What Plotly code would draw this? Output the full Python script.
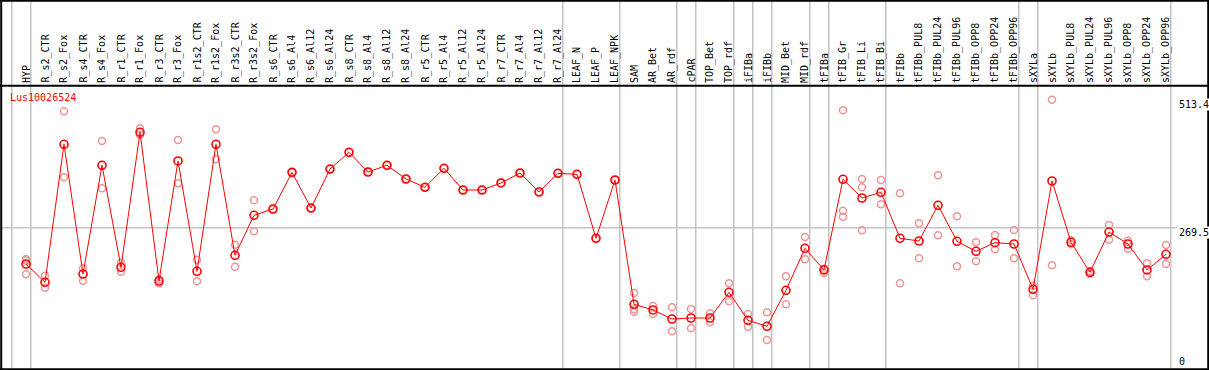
import plotly.graph_objects as go

W, H = 1209, 370

categories = ["HYP", "R_s2_CTR", "R_s2_Fox", "R_s4_CTR", "R_s4_Fox", "R_r1_CTR", "R_r1_Fox",
              "R_r3_CTR", "R_r3_Fox", "R_r1s2_CTR", "R_r1s2_Fox", "R_r3s2_CTR", "R_r3s2_Fox",
              "R_s6_CTR", "R_s6_Al4", "R_s6_Al12", "R_s6_Al24", "R_s8_CTR", "R_s8_Al4", "R_s8_Al12",
              "R_s8_Al24", "R_r5_CTR", "R_r5_Al4", "R_r5_Al12", "R_r5_Al24", "R_r7_CTR", "R_r7_Al4",
              "R_r7_Al12", "R_r7_Al24", "LEAF_N", "LEAF_P", "LEAF_NPK", "SAM", "AR_Bet", "AR_rdf",
              "cPAR", "TOP_Bet", "TOP_rdf", "iFIBa", "iFIBb", "MID_Bet", "MID_rdf", "tFIBa",
              "tFIB_Gr", "tFIB_Li", "tFIB_Bi", "tFIBb", "tFIBb_PUL8", "tFIBb_PUL24", "tFIBb_PUL96",
              "tFIBb_OPP8", "tFIBb_OPP24", "tFIBb_OPP96", "sXYLa", "sXYLb", "sXYLb_PUL8",
              "sXYLb_PUL24", "sXYLb_PUL96", "sXYLb_OPP8", "sXYLb_OPP24", "sXYLb_OPP96"]

means = [200.4, 165.5, 428.4, 181.3, 388.4, 194.1, 451.2, 168.0, 396.6, 186.5, 428.4, 217.0,
         293.1, 305.1, 375.0, 307.0, 381.3, 413.1, 375.6, 388.4, 362.3, 346.5, 382.7, 341.3,
         341.3, 354.7, 373.7, 337.5, 373.1, 371.2, 249.3, 360.4, 123.6, 112.8, 95.6, 97.5,
         97.5, 146.5, 93.1, 81.7, 150.3, 230.3, 189.0, 361.7, 326.1, 337.0, 249.3, 244.2,
         312.2, 243.6, 224.6, 241.0, 238.5, 152.2, 358.5, 241.7, 184.6, 261.3, 238.5, 189.0,
         218.9]

replicates = [
    [209.9, 207.0, 180.8], [178.1, 155.2], [491.2, 365.5], [192.2, 168.6], [434.7, 344.6],
    [202.9, 185.7], [458.9, 446.1], [171.2, 163.6], [436.6, 354.1], [208.6, 167.4],
    [457.0, 399.8], [237.1, 195.2], [321.7, 262.7],
    [305.1], [375.0], [307.0], [381.3], [413.1], [375.6], [388.4], [362.3], [346.5],
    [382.7], [341.3], [341.3], [354.7], [373.7], [337.5], [373.1], [371.2], [249.3], [360.4],
    [145.1, 114.1, 109.5], [120.4, 105.1], [117.9, 72.2], [114.7, 77.9], [106.5, 89.3],
    [163.6, 129.3], [105.1, 81.0], [108.4, 55.6], [177.0, 123.6], [251.8, 209.3],
    [191.4, 183.8], [493.1, 301.9, 290.5], [362.3, 346.5, 264.6], [360.4, 314.1],
    [335.0, 163.6], [277.9, 211.2], [369.3, 255.0], [291.2, 196.0], [241.7, 205.5],
    [255.6, 228.4], [265.1, 211.2], [159.0, 140.8], [513.4, 197.9], [245.5, 237.9],
    [187.0, 181.9], [274.7, 246.7], [244.8, 229.5], [201.7, 176.9], [236.6, 200.4],
]

gene_name = "Lus10026524"
y_tick_values = [513.4, 269.5, 0]
y_tick_labels = ["513.4", "269.5", "0"]
ref_value = 269.5
# group separators: gridline placed just after these category indices
separator_after = [-1, 0, 28, 31, 34, 35, 37, 38, 39, 41, 42, 45, 52, 53, 60]

# pixel geometry helpers
X0, DX = 26.0, 19.0          # pixel of first category, spacing
Y0PX, SCALE = 369.2, 0.525   # pixel of value 0, px per unit

def py(p):
    return 1 - p / H

def px(p):
    return p / W

x_idx = list(range(len(categories)))

rep_x, rep_y = [], []
for i, reps in enumerate(replicates):
    for v in reps:
        rep_x.append(i)
        rep_y.append(v)

fig = go.Figure()
fig.add_trace(go.Scatter(
    x=rep_x, y=rep_y, mode="markers",
    marker=dict(symbol="circle-open", size=7, color="rgb(238,150,150)", line=dict(width=1.5)),
    hoverinfo="skip", showlegend=False))
fig.add_trace(go.Scatter(
    x=x_idx, y=means, mode="lines+markers",
    line=dict(color="#ff0000", width=1),
    marker=dict(symbol="circle-open", size=8, color="#ff0000", line=dict(width=1.6)),
    showlegend=False))

shapes = []
gray = "rgb(195,195,195)"
for s in separator_after:
    shapes.append(dict(type="line", xref="x", yref="paper", x0=s + 0.25, x1=s + 0.25,
                       y0=0, y1=1, line=dict(color=gray, width=1.5), layer="below"))
shapes.append(dict(type="line", xref="paper", yref="y", x0=0, x1=px(1177),
                   y0=ref_value, y1=ref_value, line=dict(color=gray, width=1.5), layer="below"))
black = "black"
for p in [0.8, 85.7]:
    shapes.append(dict(type="line", xref="paper", yref="paper", x0=0, x1=1, y0=py(p), y1=py(p),
                       line=dict(color=black, width=2)))
shapes.append(dict(type="line", xref="paper", yref="paper", x0=0, x1=1, y0=py(369.2), y1=py(369.2),
                   line=dict(color=black, width=2)))
shapes.append(dict(type="line", xref="paper", yref="paper", x0=px(1.2), x1=px(1.2), y0=0, y1=1,
                   line=dict(color=black, width=2)))
shapes.append(dict(type="line", xref="paper", yref="paper", x0=px(1208.2), x1=px(1208.2),
                   y0=0, y1=1, line=dict(color=black, width=2)))

annotations = []
mono = "DejaVu Sans Mono"
for i, c in enumerate(categories):
    annotations.append(dict(x=i, y=py(84.0), xref="x", yref="paper", text=c, showarrow=False,
                            textangle=-90, xanchor="center", yanchor="bottom",
                            font=dict(family=mono, size=10, color="black"), borderpad=0))
annotations.append(dict(x=px(9), y=py(97.3), xref="paper", yref="paper", text=gene_name,
                        showarrow=False, xanchor="left", yanchor="middle",
                        font=dict(family=mono, size=10, color="#ff0000"), borderpad=0))
for v, lab in zip(y_tick_values, y_tick_labels):
    pcenter = Y0PX - v * SCALE + 5.0
    pcenter = min(pcenter, 361.7)
    annotations.append(dict(x=px(1177.5), y=py(pcenter), xref="paper", yref="paper", text=lab,
                            showarrow=False, xanchor="left", yanchor="middle",
                            bgcolor="white",
                            font=dict(family=mono, size=10, color="black"), borderpad=0))

fig.update_layout(
    width=W, height=H, margin=dict(l=0, r=0, t=0, b=0),
    paper_bgcolor="white", plot_bgcolor="white",
    xaxis=dict(range=[(0 - X0) / DX, (W - X0) / DX], visible=False, fixedrange=True),
    yaxis=dict(range=[(Y0PX - H) / SCALE, Y0PX / SCALE], visible=False, fixedrange=True),
    shapes=shapes, annotations=annotations, showlegend=False,
)

fig.write_html(
    "out.html",
    config={"displayModeBar": False},
    post_script="document.body.style.margin='0px';document.body.style.overflow='hidden';",
)
